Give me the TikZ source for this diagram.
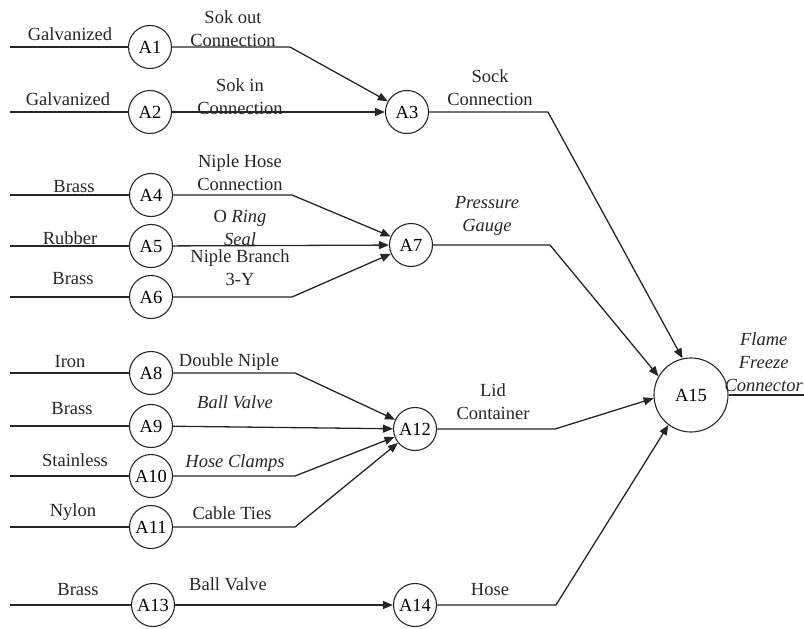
\documentclass[tikz,border=0pt]{standalone}
\usepackage{fontspec}
\setmainfont{Liberation Serif}
\usetikzlibrary{arrows.meta}
\begin{document}
\begin{tikzpicture}[x=1pt,y=-1pt,
  proc/.style={circle, draw=black!85, line width=1.1pt, minimum size=43pt, inner sep=0pt, font=\fontsize{18.5}{21}\selectfont},
  bigproc/.style={proc, minimum size=74pt},
  lbl/.style={font=\fontsize{18.5}{23}\selectfont, align=center, inner sep=0pt, text=black!85},
  conn/.style={draw=black!85, line width=1.3pt, line join=miter},
  arr/.style={conn, -{Triangle[length=10pt,width=8pt]}}]
\useasboundingbox (0,0) rectangle (804,629);

% process circles
\node[proc] (A1) at (150,47) {A1};
\node[proc] (A2) at (150,112) {A2};
\node[proc] (A3) at (407,112) {A3};
\node[proc] (A4) at (151,195) {A4};
\node[proc] (A5) at (151,246) {A5};
\node[proc] (A6) at (151,297) {A6};
\node[proc] (A7) at (411,245) {A7};
\node[proc] (A8) at (151,373) {A8};
\node[proc] (A9) at (151,426) {A9};
\node[proc] (A10) at (151,476) {A10};
\node[proc] (A11) at (151,527) {A11};
\node[proc] (A12) at (415,429) {A12};
\node[proc] (A13) at (153,605) {A13};
\node[proc] (A14) at (415,605) {A14};
\node[bigproc] (A15) at (691,395) {A15};

% free ends and bends
\coordinate (s1) at (10,47);
\coordinate (s2) at (10,112);
\coordinate (s4) at (10,195);
\coordinate (s5) at (10,246);
\coordinate (s6) at (10,297);
\coordinate (s8) at (10,373);
\coordinate (s9) at (10,426);
\coordinate (s10) at (10,476);
\coordinate (s11) at (10,527);
\coordinate (s13) at (10,605);
\coordinate (b1) at (290,47);
\coordinate (b3) at (548,112);
\coordinate (b4) at (292,195);
\coordinate (b6) at (292,297);
\coordinate (b7) at (550,245);
\coordinate (b8) at (295,373);
\coordinate (b10) at (295,476);
\coordinate (b11) at (295,527);
\coordinate (b12) at (555,429);
\coordinate (b14) at (556,605);
\coordinate (o15) at (810,395);

% input lines
\draw[conn] (s1) -- (A1);
\draw[conn] (s2) -- (A2);
\draw[conn] (s4) -- (A4);
\draw[conn] (s5) -- (A5);
\draw[conn] (s6) -- (A6);
\draw[conn] (s8) -- (A8);
\draw[conn] (s9) -- (A9);
\draw[conn] (s10) -- (A10);
\draw[conn] (s11) -- (A11);
\draw[conn] (s13) -- (A13);

% connectors
\draw[arr] (A1) -- (b1) -- (A3);
\draw[arr] (A2) -- (A3);
\draw[arr] (A3) -- (b3) -- (A15.103);
\draw[arr] (A4) -- (b4) -- (A7);
\draw[arr] (A5) -- (A7);
\draw[arr] (A6) -- (b6) -- (A7);
\draw[arr] (A7) -- (b7) -- (A15.150);
\draw[arr] (A8) -- (b8) -- (A12);
\draw[arr] (A9) -- (A12);
\draw[arr] (A10) -- (b10) -- (A12);
\draw[arr] (A11) -- (b11) -- (A12);
\draw[arr] (A12) -- (b12) -- (A15.185);
\draw[arr] (A13) -- (A14);
\draw[arr] (A14) -- (b14) -- (A15.233);
\draw[conn] (A15) -- (o15);

% input labels
\node[lbl] (l1) at (70,34) {Galvanized};
\node[lbl] (l2) at (68,99) {Galvanized};
\node[lbl] (l4) at (74,187) {Brass};
\node[lbl] (l5) at (70,238) {Rubber};
\node[lbl] (l6) at (73,279) {Brass};
\node[lbl] (l8) at (70,362) {Iron};
\node[lbl] (l9) at (72,409) {Brass};
\node[lbl] (l10) at (75,460) {Stainless};
\node[lbl] (l11) at (73,512) {Nylon};
\node[lbl] (l13) at (78,590) {Brass};

% output labels
\node[lbl] (m1) at (233,29) {Sok out\\Connection};
\node[lbl] (m2) at (240,97) {Sok in\\Connection};
\node[lbl] (m3) at (490,88) {Sock\\Connection};
\node[lbl] (m4) at (240,173) {Niple Hose\\Connection};
\node[lbl] (m5) at (240,228) {O \textit{Ring}\\\textit{Seal}};
\node[lbl] (m6) at (240,268) {Niple Branch\\3-Y};
\node[lbl] (m7) at (487,216) {\textit{Pressure}\\\textit{Gauge}};
\node[lbl] (m8) at (229,362) {Double Niple};
\node[lbl] (m9) at (235,402) {\textit{Ball Valve}};
\node[lbl] (m10) at (235,463) {\textit{Hose Clamps}};
\node[lbl] (m11) at (232,513) {Cable Ties};
\node[lbl] (m12) at (493,402) {Lid\\Container};
\node[lbl] (m13) at (228,584) {Ball Valve};
\node[lbl] (m14) at (490,590) {Hose};
\node[lbl, anchor=east] (m15) at (803,362) {\textit{Flame}\\\textit{Freeze}\\\textit{Connector}};
\end{tikzpicture}
\end{document}
